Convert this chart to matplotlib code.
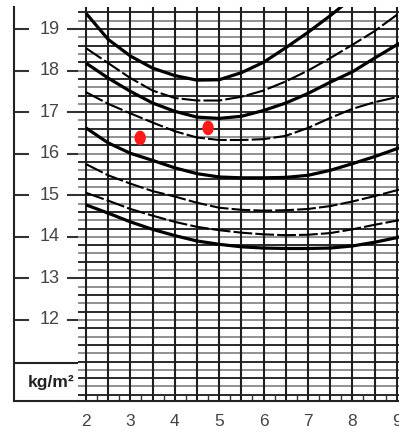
# BMI-for-age chart crop, ages 2 to 9
import numpy as np
import matplotlib
matplotlib.use("Agg")
import matplotlib.pyplot as plt
from matplotlib.path import Path

plt.rcParams["font.family"] = ["Liberation Sans", "DejaVu Sans"]

ages = [2, 2.5, 3, 3.5, 4, 4.5, 5, 5.5, 6, 6.5, 7, 7.5, 8, 8.5, 9, 9.1]

# percentile curves, top to bottom (kg/m2)
curve_a = [19.38, 18.75, 18.35, 18.06, 17.88, 17.77, 17.78, 17.95, 18.20, 18.55, 18.92, 19.32, 19.75, 20.2, 20.6, 20.7]
curve_b = [18.54, 18.18, 17.82, 17.52, 17.34, 17.28, 17.28, 17.37, 17.52, 17.74, 18.00, 18.30, 18.62, 18.95, 19.34, 19.44]
curve_c = [18.18, 17.82, 17.50, 17.22, 17.02, 16.88, 16.85, 16.90, 17.04, 17.22, 17.45, 17.72, 17.97, 18.30, 18.62, 18.68]
curve_d = [17.48, 17.20, 16.97, 16.75, 16.54, 16.39, 16.33, 16.33, 16.35, 16.43, 16.62, 16.86, 17.08, 17.24, 17.36, 17.38]
curve_e = [16.62, 16.26, 16.01, 15.84, 15.66, 15.52, 15.44, 15.42, 15.42, 15.43, 15.48, 15.60, 15.76, 15.93, 16.12, 16.16]
curve_f = [15.75, 15.48, 15.28, 15.10, 14.97, 14.82, 14.70, 14.65, 14.63, 14.64, 14.67, 14.74, 14.85, 14.98, 15.12, 15.15]
curve_g = [15.06, 14.87, 14.67, 14.51, 14.36, 14.24, 14.16, 14.10, 14.06, 14.04, 14.05, 14.09, 14.18, 14.29, 14.39, 14.41]
curve_h = [14.77, 14.57, 14.36, 14.18, 14.03, 13.90, 13.82, 13.76, 13.73, 13.72, 13.72, 13.73, 13.78, 13.87, 13.98, 14.01]

thick_curves = [curve_a, curve_c, curve_e, curve_h]
dashed_curves = [curve_b, curve_d, curve_f, curve_g]

# measured points
point_ages = [3.22, 4.75]
point_bmi = [16.38, 16.62]

age_labels = [2, 3, 4, 5, 6, 7, 8, 9]
bmi_labels = [12, 13, 14, 15, 16, 17, 18, 19]

W, H = 399, 433
fig = plt.figure(figsize=(W / 100, H / 100), dpi=100)

y_lo, y_hi = 10.05, 19.53
ax_bottom = 32 / H
ax_height = 394 / H

# main grid
ax = fig.add_axes([78 / W, ax_bottom, 1 - 78 / W, ax_height])
ax.set_xlim(1.82, 9.05)
ax.set_ylim(y_lo, y_hi)

for i, v in enumerate(np.arange(10.2, 19.5, 0.2)):
    col = "#2a2a2a" if i % 2 == 0 else "#909090"
    ax.axhline(v, color=col, lw=1.4, zorder=1)
for v in np.arange(2, 9.01, 0.5):
    ax.axvline(v, color="#1e1e1e", lw=1.5, zorder=2)

for c in thick_curves:
    ax.plot(ages, c, color="black", lw=2.3, zorder=4, solid_capstyle="butt")
for c in dashed_curves:
    ax.plot(ages, c, color="black", lw=1.5, zorder=4, dashes=(9, 1.5))

# slightly tall oval marker
t = np.linspace(0, 2 * np.pi, 40)
oval = Path(np.column_stack([0.78 * np.cos(t), np.sin(t)]), closed=True)
ax.scatter(point_ages, point_bmi, marker=oval, s=110, color="#ff1a1a",
           edgecolors="none", zorder=6)

for s in ["top", "right", "left"]:
    ax.spines[s].set_visible(False)
ax.spines["bottom"].set_color("#222")
ax.spines["bottom"].set_linewidth(1.5)
ax.set_xticks(age_labels)
ax.set_xticklabels([str(a) for a in age_labels], fontsize=12.5, color="#444")
ax.set_xticks(np.arange(2.25, 9.0, 0.5), minor=True)
ax.tick_params(axis="x", which="major", length=0, pad=9)
ax.tick_params(axis="x", which="minor", direction="in", length=5, width=1, color="#333")
ax.set_yticks([])

# label column on the left
lab = fig.add_axes([14 / W, ax_bottom, 64 / W, ax_height])
lab.set_xlim(0, 1)
lab.set_ylim(y_lo, y_hi)
lab.patch.set_alpha(0)
for s in ["top", "right"]:
    lab.spines[s].set_visible(False)
for s in ["left", "bottom"]:
    lab.spines[s].set_color("#222")
    lab.spines[s].set_linewidth(1.5)
lab.set_xticks([])
lab.set_yticks([])
for b in bmi_labels:
    lab.plot([0, 0.22], [b, b], color="#333", lw=1.5)
    lab.plot([0.84, 1.0], [b, b], color="#333", lw=1.5)
    lab.text(0.56, b, str(b), ha="center", va="center", fontsize=13, color="#444")
lab.axhline(10.97, color="#222", lw=1.5)
lab.text(0.58, 10.5, "kg/m²", ha="center", va="center", fontsize=12.5,
         fontweight="bold", color="#222")

fig.savefig("out.png", dpi=100)
